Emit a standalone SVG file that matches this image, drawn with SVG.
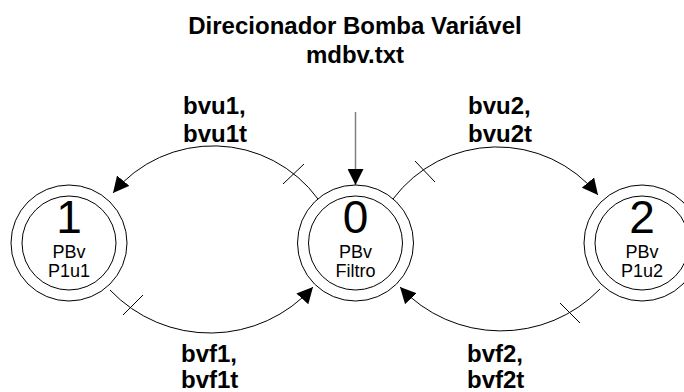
<svg xmlns="http://www.w3.org/2000/svg" width="684" height="392" viewBox="0 0 684 392">
<style>
.title{font-family:"Liberation Sans",Arial,sans-serif;font-weight:bold;font-size:24px;fill:#000;text-anchor:middle}
.lbl{font-family:"Liberation Sans",Arial,sans-serif;font-weight:bold;font-size:24px;fill:#000}
.num{font-family:"Liberation Sans",Arial,sans-serif;font-size:46px;fill:#000;text-anchor:middle}
.sub{font-family:"Liberation Sans",Arial,sans-serif;font-size:18px;fill:#000;text-anchor:middle}
.ring{fill:none;stroke:#000;stroke-width:1}
.edge{fill:none;stroke:#000;stroke-width:1}
.tick{stroke:#000;stroke-width:1}
</style>
<defs>
<marker id="ah" viewBox="0 0 16 16" refX="16" refY="8" markerWidth="16" markerHeight="16" markerUnits="userSpaceOnUse" orient="auto">
<path d="M0,0 L16,8 L0,16 Z" fill="#000"/>
</marker>
</defs>
<rect width="684" height="392" fill="#fff"/>
<text class="title" x="355" y="34">Direcionador Bomba Variável</text>
<text class="title" x="355" y="63">mdbv.txt</text>
<g id="edges">
<line x1="355.5" y1="112" x2="355.5" y2="185" stroke="#808080" stroke-width="1.5" marker-end="url(#ah)"/>
<path class="edge" d="M318,199 A130,130 0 0 0 113,193" marker-end="url(#ah)"/>
<line class="tick" x1="283" y1="184" x2="304" y2="164"/>
<path class="edge" d="M393,199 A130,130 0 0 1 598,195" marker-end="url(#ah)"/>
<line class="tick" x1="415" y1="161" x2="435" y2="182"/>
<path class="edge" d="M110,290 A138,138 0 0 0 313,287" marker-end="url(#ah)"/>
<line class="tick" x1="123" y1="315" x2="143" y2="295"/>
<path class="edge" d="M600,289 A138,138 0 0 1 400,287" marker-end="url(#ah)"/>
<line class="tick" x1="560" y1="303" x2="580" y2="323"/>
</g>
<g id="edge-labels">
<text class="lbl" x="183" y="114">bvu1,</text>
<text class="lbl" x="183" y="142">bvu1t</text>
<text class="lbl" x="468" y="114">bvu2,</text>
<text class="lbl" x="468" y="142">bvu2t</text>
<text class="lbl" x="181" y="362">bvf1,</text>
<text class="lbl" x="181" y="388">bvf1t</text>
<text class="lbl" x="467" y="362">bvf2,</text>
<text class="lbl" x="467" y="388">bvf2t</text>
</g>
<g id="node1">
<circle class="ring" cx="69" cy="243" r="58"/>
<circle class="ring" cx="69" cy="243" r="47"/>
<text class="num" x="69" y="233">1</text>
<text class="sub" x="69" y="258">PBv</text>
<text class="sub" x="69" y="277">P1u1</text>
</g>
<g id="node0">
<circle class="ring" cx="355.5" cy="243" r="58"/>
<circle class="ring" cx="355.5" cy="243" r="47"/>
<text class="num" x="355.5" y="233">0</text>
<text class="sub" x="355.5" y="258">PBv</text>
<text class="sub" x="355.5" y="277">Filtro</text>
</g>
<g id="node2">
<circle class="ring" cx="642" cy="243" r="58"/>
<circle class="ring" cx="642" cy="243" r="47"/>
<text class="num" x="642" y="233">2</text>
<text class="sub" x="642" y="258">PBv</text>
<text class="sub" x="642" y="277">P1u2</text>
</g>
</svg>
